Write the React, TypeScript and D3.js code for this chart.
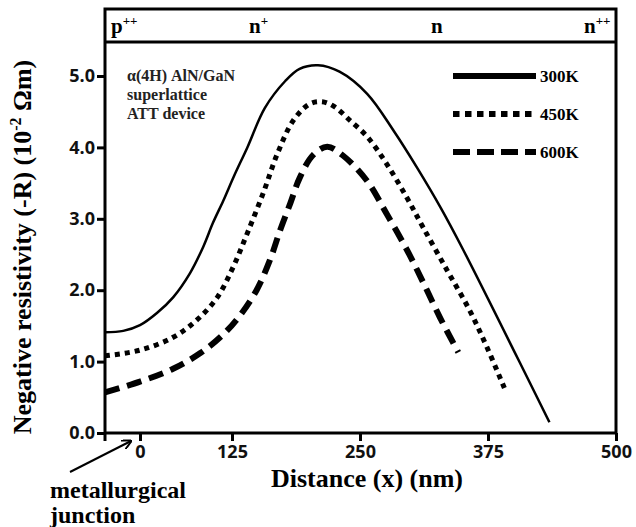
import React, { useEffect, useRef } from "react";
import * as d3 from "d3";

// distance (nm) vs negative resistivity (10^-2 Ohm m)
const x300 = [-48, -23, 0, 23, 45, 68, 86, 99, 113, 127, 140, 157, 177, 191, 209, 230, 257, 283, 306, 329, 351, 416, 435];
const r300 = [1.41, 1.43, 1.51, 1.68, 1.9, 2.24, 2.61, 2.94, 3.25, 3.6, 4.0, 4.55, 4.93, 5.1, 5.15, 5.06, 4.75, 4.23, 3.71, 3.15, 2.56, 0.7, 0.15];

const x450 = [-48, 0, 45, 77, 105, 126, 140, 156, 169, 185, 201, 213, 225, 240, 257, 276, 296, 312, 335, 357, 374, 391];
const r450 = [1.08, 1.16, 1.34, 1.58, 1.9, 2.32, 2.8, 3.38, 3.9, 4.38, 4.61, 4.64, 4.57, 4.38, 4.15, 3.77, 3.29, 2.87, 2.28, 1.72, 1.2, 0.63];

const x600 = [-48, 0, 45, 82, 113, 133, 149, 162, 172, 182, 191, 204, 218, 233, 257, 276, 296, 312, 328, 346];
const r600 = [0.57, 0.72, 0.9, 1.12, 1.38, 1.65, 2.0, 2.42, 2.84, 3.22, 3.57, 3.89, 4.01, 3.89, 3.53, 3.07, 2.56, 2.1, 1.62, 1.13];

const seriesNames = ["300K", "450K", "600K"];
const xTicks = [0, 125, 250, 375, 500];
const yTicks = [0, 1, 2, 3, 4, 5];
const regions = [
  { base: "p", sup: "++" },
  { base: "n", sup: "+" },
  { base: "n", sup: "" },
  { base: "n", sup: "++" },
];
const noteLines = ["α(4H) AlN/GaN", "superlattice", "ATT device"];

const serif = "'Liberation Serif', 'Times New Roman', serif";
const sans = "'Open Sans', 'Noto Sans', sans-serif";

function App() {
  const ref = useRef(null);

  useEffect(() => {
    const svg = d3.select(ref.current);
    svg.selectAll("*").remove();

    const left = 105,
      right = 616,
      top = 9,
      band = 42,
      bottom = 433;

    // the original axis is not uniform: the "0" mark sits right of the frame edge
    const x = d3.scaleLinear().domain([-48, 0, 125, 500]).range([left, 140, 232, right]);
    const y = d3.scaleLinear().domain([0, 5]).range([bottom, 76]);

    const series = [
      { xs: x300, ys: r300, width: 2.5, dash: null, legDash: null },
      { xs: x450, ys: r450, width: 5, dash: "5,5", legDash: "6.5,5.5" },
      { xs: x600, ys: r600, width: 6, dash: "15,8", legDash: "17,7" },
    ];

    const line = d3
      .line()
      .x((d) => x(d[0]))
      .y((d) => y(d[1]))
      .curve(d3.curveCatmullRom.alpha(0.5));

    const g = svg.append("g");

    series.forEach((s) => {
      const pts = s.xs.map((v, i) => [v, s.ys[i]]);
      g.append("path")
        .attr("d", line(pts))
        .attr("fill", "none")
        .attr("stroke", "#000")
        .attr("stroke-width", s.width)
        .attr("stroke-dasharray", s.dash);
    });

    // frame + region band
    g.append("rect")
      .attr("x", left)
      .attr("y", top)
      .attr("width", right - left)
      .attr("height", bottom - top)
      .attr("fill", "none")
      .attr("stroke", "#000")
      .attr("stroke-width", 3);
    g.append("line")
      .attr("x1", left)
      .attr("x2", right)
      .attr("y1", band)
      .attr("y2", band)
      .attr("stroke", "#000")
      .attr("stroke-width", 3);

    const regionX = [111, 249, 431, 584];
    regions.forEach((r, i) => {
      const t = g
        .append("text")
        .attr("x", regionX[i])
        .attr("y", 33)
        .style("font-family", serif)
        .style("font-weight", "bold")
        .style("font-size", "21px");
      t.append("tspan").text(r.base);
      if (r.sup) {
        t.append("tspan").attr("dy", -8).style("font-size", "13px").text(r.sup);
      }
    });

    // axes
    const xAxis = g
      .append("g")
      .attr("transform", `translate(0, ${bottom})`)
      .call(d3.axisBottom(x).tickValues(xTicks).tickSize(8).tickPadding(4).tickFormat(d3.format("d")));
    const yAxis = g
      .append("g")
      .attr("transform", `translate(${left}, 0)`)
      .call(d3.axisLeft(y).tickValues(yTicks).tickSize(8).tickPadding(2).tickFormat(d3.format(".1f")));
    [xAxis, yAxis].forEach((a) => {
      a.select(".domain").remove();
      a.selectAll("line").attr("stroke-width", 3);
      a.selectAll("text")
        .style("font-family", sans)
        .style("font-weight", "bold")
        .style("font-size", "18px")
        .attr("fill", "#111");
    });
    // small tick at frame corner below the axis
    g.append("line")
      .attr("x1", left)
      .attr("x2", left)
      .attr("y1", bottom)
      .attr("y2", bottom + 8)
      .attr("stroke", "#000")
      .attr("stroke-width", 3);

    // note
    noteLines.forEach((s, i) => {
      g.append("text")
        .attr("x", 127)
        .attr("y", 81 + i * 19)
        .style("font-family", serif)
        .style("font-weight", "bold")
        .style("font-size", "16px")
        .attr("fill", "#222")
        .text(s);
    });

    // legend
    series.forEach((s, i) => {
      const ly = 76 + i * 38;
      g.append("line")
        .attr("x1", 453)
        .attr("x2", 536)
        .attr("y1", ly)
        .attr("y2", ly)
        .attr("stroke", "#000")
        .attr("stroke-width", 6)
        .attr("stroke-dasharray", s.legDash);
      g.append("text")
        .attr("x", 540)
        .attr("y", ly + 6)
        .style("font-family", serif)
        .style("font-weight", "bold")
        .style("font-size", "17px")
        .text(seriesNames[i]);
    });

    // axis titles
    const yTitle = g
      .append("text")
      .attr("transform", "rotate(-90)")
      .attr("x", -247)
      .attr("y", 31)
      .attr("text-anchor", "middle")
      .style("font-family", serif)
      .style("font-weight", "bold")
      .style("font-size", "26px");
    yTitle.append("tspan").text("Negative resistivity (-R) (10");
    yTitle.append("tspan").attr("dy", -10).style("font-size", "16px").text("-2");
    yTitle.append("tspan").attr("dy", 10).text(" Ωm)");

    g.append("text")
      .attr("x", 367)
      .attr("y", 487)
      .attr("text-anchor", "middle")
      .style("font-family", serif)
      .style("font-weight", "bold")
      .style("font-size", "26px")
      .text("Distance (x) (nm)");

    ["metallurgical", "junction"].forEach((s, i) => {
      g.append("text")
        .attr("x", 50)
        .attr("y", 498 + i * 25)
        .style("font-family", serif)
        .style("font-weight", "bold")
        .style("font-size", "24px")
        .text(s);
    });

    // arrow to the junction
    svg
      .append("defs")
      .append("marker")
      .attr("id", "ah")
      .attr("viewBox", "0 0 10 10")
      .attr("refX", 9)
      .attr("refY", 5)
      .attr("markerWidth", 5)
      .attr("markerHeight", 5)
      .attr("orient", "auto")
      .append("path")
      .attr("d", "M0,0 L10,5 L0,10")
      .attr("fill", "none")
      .attr("stroke", "#000")
      .attr("stroke-width", 2);
    g.append("line")
      .attr("x1", 70)
      .attr("y1", 472)
      .attr("x2", 131)
      .attr("y2", 441)
      .attr("stroke", "#000")
      .attr("stroke-width", 2)
      .attr("marker-end", "url(#ah)");
  }, []);

  return (
    <svg
      ref={ref}
      width={636}
      height={527}
      style={{ position: "absolute", left: 0, top: 0, background: "#fff" }}
    />
  );
}

export default App;
